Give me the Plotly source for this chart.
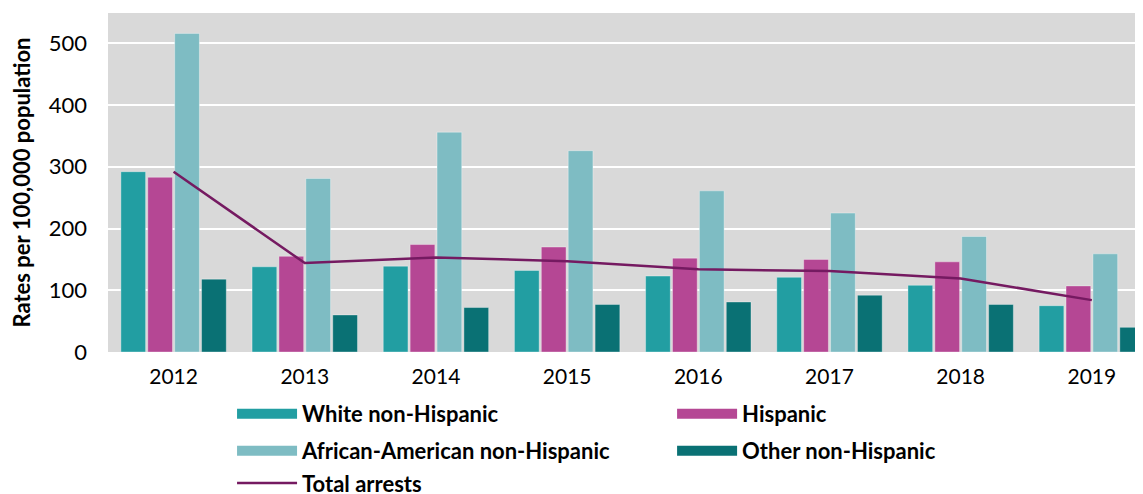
import plotly.graph_objects as go

# Arrest rates per 100,000 population, by race/ethnicity
years = ["2012", "2013", "2014", "2015", "2016", "2017", "2018", "2019"]
white = [292, 138, 139, 132, 123, 121, 108, 75]
hispanic = [283, 155, 174, 170, 152, 150, 146, 107]
african_american = [516, 281, 356, 326, 261, 225, 187, 159]
other = [118, 60, 72, 77, 81, 92, 77, 40]
total = [292, 144, 153, 147, 134, 131, 119, 84]

FONT = "Lato"
BAR_EDGE = "rgba(255,255,255,0.35)"

# page body has an 8px margin, so the figure is sized/offset to compensate
W, H = 1135, 486

fig = go.Figure()

bars = [
    ("White non-Hispanic", white, "#229EA2", "legend"),
    ("Hispanic", hispanic, "#B54794", "legend2"),
    ("African-American non-Hispanic", african_american, "#7EBCC3", "legend3"),
    ("Other non-Hispanic", other, "#0A7174", "legend4"),
]
for name, vals, color, leg in bars:
    fig.add_trace(go.Bar(
        x=years, y=vals, name=name, showlegend=False,
        marker=dict(color=color, line=dict(color=BAR_EDGE, width=1)),
    ))
    # legend-only entry drawn as a wide block like the original swatches
    fig.add_trace(go.Scatter(
        x=[None], y=[None], name=name, mode="lines",
        line=dict(color=color, width=14), legend=leg,
    ))

fig.add_trace(go.Scatter(
    x=years, y=total, name="Total arrests", mode="lines",
    line=dict(color="#751A61", width=2.5),
    legend="legend5",
))

legend_font = dict(family=FONT, size=22, color="black", weight="bold")


def legend_at(x, y):
    return dict(
        x=x, y=y, xref="container", yref="container",
        xanchor="left", yanchor="middle", orientation="h",
        font=legend_font, bgcolor="rgba(0,0,0,0)", itemwidth=60,
    )


fig.update_layout(
    width=W, height=H,
    margin=dict(l=100, r=0, t=5, b=142),
    paper_bgcolor="white", plot_bgcolor="#D9D9D9",
    barmode="group", bargap=0.18, bargroupgap=0.08,
    font=dict(family=FONT, color="black"),
    showlegend=True,
    legend=legend_at(0.1974, 0.1646),
    legend2=legend_at(0.5851, 0.1646),
    legend3=legend_at(0.1974, 0.0885),
    legend4=legend_at(0.5851, 0.0885),
    legend5=legend_at(0.1974, 0.022),
    xaxis=dict(
        range=[-0.5, 7.39], showgrid=False, zeroline=False, automargin=False,
        tickfont=dict(family=FONT, size=21), ticks="", ticklabelstandoff=10,
    ),
    yaxis=dict(
        range=[0, 549], tickvals=[0, 100, 200, 300, 400, 500],
        gridcolor="white", gridwidth=2, zeroline=False, automargin=False,
        tickfont=dict(family=FONT, size=22), ticklabelstandoff=20,
        title=dict(text="Rates per 100,000 population",
                   font=dict(family=FONT, size=22, weight="bold"), standoff=12),
    ),
)

fig.write_html("out.html")
